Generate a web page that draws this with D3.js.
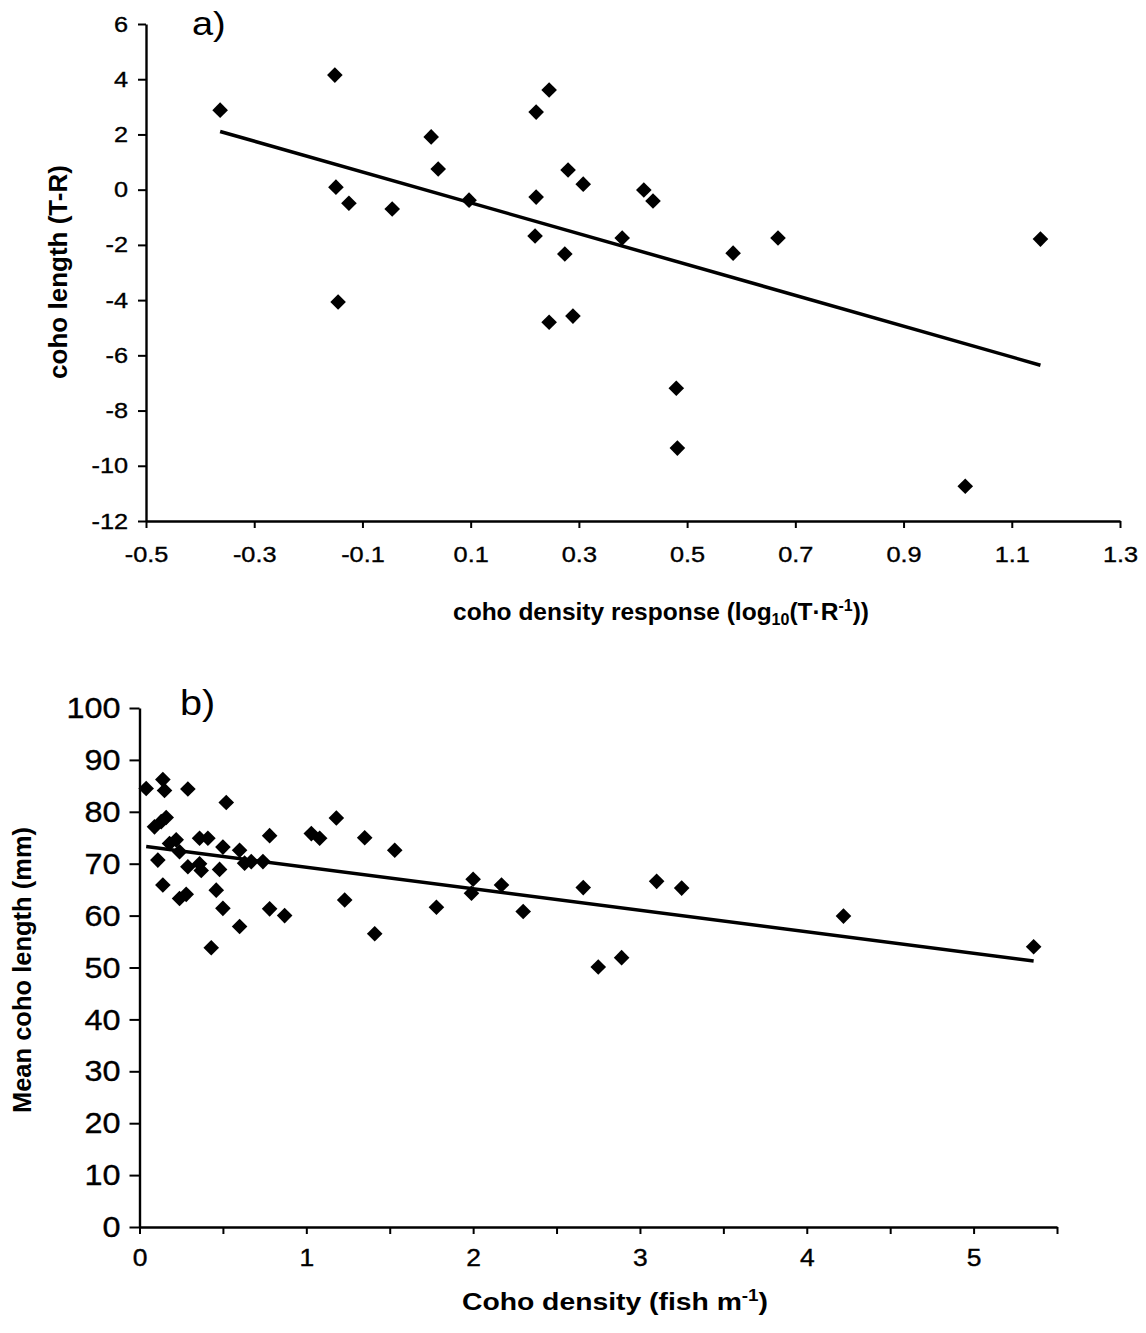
<!DOCTYPE html>
<html><head><meta charset="utf-8">
<script src="https://cdn.jsdelivr.net/npm/d3@7"></script>
<style>body{margin:0;background:#fff}svg{display:block}</style>
</head><body>
<svg id="c" width="1146" height="1333"></svg>
<script>
// Panel a: coho density response vs coho length (T-R)
const aX = [-0.363,-0.151,-0.149,-0.125,-0.145,-0.045,0.027,0.040,0.097,0.221,0.245,0.221,0.219,0.280,0.308,0.274,0.245,0.289,0.380,0.420,0.437,0.480,0.482,0.585,0.668,1.014,1.153];
const aY = [2.88,4.15,0.09,-0.49,-4.07,-0.70,1.91,0.75,-0.38,2.81,3.61,-0.27,-1.68,0.71,0.20,-2.33,-4.80,-4.58,-1.75,-0.01,-0.41,-7.19,-9.36,-2.30,-1.75,-10.74,-1.79];
const aXTicks = [-0.5,-0.3,-0.1,0.1,0.3,0.5,0.7,0.9,1.1,1.3];
const aYTicks = [-12,-10,-8,-6,-4,-2,0,2,4,6];

// Panel b: coho density vs mean coho length
const bX = [0.04,0.14,0.15,0.29,0.52,0.09,0.13,0.16,0.18,0.22,0.24,0.36,0.41,0.50,0.60,0.78,0.11,0.29,0.36,0.37,0.48,0.63,0.67,0.74,0.14,0.24,0.28,0.46,0.50,0.60,0.78,0.87,0.43,1.03,1.08,1.18,1.23,1.35,1.41,1.53,1.78,2.00,1.99,2.17,2.30,2.66,2.75,2.89,3.10,3.25,4.22,5.36];
const bY = [84.5,86.2,84.1,84.4,81.8,77.1,78.1,78.9,73.9,74.6,72.3,74.9,74.9,73.2,72.6,75.4,70.7,69.4,70.0,68.7,68.9,70.1,70.4,70.4,65.9,63.3,64.1,64.9,61.4,57.9,61.3,60.0,53.8,75.8,74.9,78.8,63.0,75.0,56.5,72.6,61.6,67.0,64.3,65.9,60.8,65.4,50.1,51.9,66.6,65.3,59.9,54.0];
const bXTicks = [0,1,2,3,4,5];
const bXMinorTicks = [0.5,1.5,2.5,3.5,4.5,5.5];
const bYTicks = [0,10,20,30,40,50,60,70,80,90,100];

const FONT = "'Liberation Sans', Arial, sans-serif";
const svg = d3.select("#c");

function linreg(xs, ys){
  const mx = d3.mean(xs), my = d3.mean(ys);
  let sxy=0, sxx=0;
  xs.forEach((x,i)=>{ sxy += (x-mx)*(ys[i]-my); sxx += (x-mx)*(x-mx); });
  const m = sxy/sxx;
  return {m, b: my - m*mx};
}

const diamond = d3.symbol().type(d3.symbolSquare).size(122);

function styleAxis(g, fs, stretch, isY){
  g.select(".domain").attr("stroke","#000").attr("stroke-width",2.4);
  g.selectAll(".tick line").attr("stroke","#000").attr("stroke-width",2);
  g.selectAll(".tick text").attr("fill","#000").style("font-family",FONT).style("font-size",fs+"px")
    .attr("stroke","#000").attr("stroke-width",0.35)
    .each(function(){
      const t = d3.select(this);
      if (isY) t.attr("x", (+t.attr("x"))/stretch);
      t.attr("transform", `scale(${stretch},1)`);
    });
}

function panel(xs, ys, xDom, xRange, yDom, yRange, opts){
  const x = d3.scaleLinear().domain(xDom).range(xRange);
  const y = d3.scaleLinear().domain(yDom).range(yRange);
  const g = svg.append("g");

  const ya = g.append("g").attr("transform",`translate(${xRange[0]},0)`)
    .call(d3.axisLeft(y).tickValues(opts.yTicks).tickSize(opts.yTickSize).tickSizeOuter(0).tickPadding(opts.yPad).tickFormat(d=>String(d)));
  styleAxis(ya, opts.yFs, opts.yStretch, true);
  const xa = g.append("g").attr("transform",`translate(0,${yRange[0]})`)
    .call(d3.axisBottom(x).tickValues(opts.xTicks).tickSize(7).tickSizeOuter(0).tickPadding(opts.xPad).tickFormat(opts.xFmt));
  styleAxis(xa, opts.xFs, opts.xStretch, false);
  if (opts.xMinor){
    g.append("g").attr("transform",`translate(0,${yRange[0]})`)
      .call(d3.axisBottom(x).tickValues(opts.xMinor).tickSize(7).tickSizeOuter(0).tickFormat(""))
      .call(a=>{a.select(".domain").remove(); a.selectAll(".tick line").attr("stroke","#000").attr("stroke-width",2);});
  }

  g.append("g").selectAll("path").data(xs.map((v,i)=>[v,ys[i]])).join("path")
    .attr("d", diamond)
    .attr("transform", d=>`translate(${x(d[0])},${y(d[1])}) rotate(45)`)
    .attr("fill","#000");

  const r = linreg(xs, ys);
  const x0 = d3.min(xs), x1 = d3.max(xs);
  g.append("line")
    .attr("x1", x(x0)).attr("y1", y(r.m*x0 + r.b))
    .attr("x2", x(x1)).attr("y2", y(r.m*x1 + r.b))
    .attr("stroke","#000").attr("stroke-width",3.5);
  return {x,y};
}

// Panel a
panel(aX, aY, [-0.5,1.3], [146,1120], [-12,6], [521,24], {
  yTicks:aYTicks, xTicks:aXTicks, yTickSize:8, yPad:10, xPad:18, yFs:22, xFs:22,
  yStretch:1.15, xStretch:1.15, xFmt:d=>d.toFixed(1)
});
// Panel b
panel(bX, bY, [0,5.5], [139.5,1057], [0,100], [1227,708], {
  yTicks:bYTicks, xTicks:bXTicks, xMinor:bXMinorTicks, yTickSize:10, yPad:9, xPad:16, yFs:30, xFs:23,
  yStretch:1.08, xStretch:1.15, xFmt:d=>String(d)
});

// Panel labels
svg.append("text").attr("transform","translate(192,35) scale(1.15,1)").style("font-family",FONT).style("font-size","33px").text("a)");
svg.append("text").attr("transform","translate(180,715) scale(1.1,1)").style("font-family",FONT).style("font-size","36px").text("b)");

// panel a x title
const tA = svg.append("text").attr("x",661).attr("y",620).attr("text-anchor","middle")
  .style("font-family",FONT).style("font-size","24.5px").style("font-weight","bold");
tA.append("tspan").text("coho density response (log");
tA.append("tspan").attr("dy",5).style("font-size","16px").text("10");
tA.append("tspan").attr("dy",-5).text("(T·R");
tA.append("tspan").attr("dy",-9).style("font-size","16px").text("-1");
tA.append("tspan").attr("dy",9).text("))");

// panel a y title
svg.append("text").attr("transform","translate(67,272) rotate(-90)").attr("text-anchor","middle")
  .style("font-family",FONT).style("font-size","26px").style("font-weight","bold").text("coho length (T-R)");

// panel b x title
const tB = svg.append("text").attr("transform","translate(615,1310) scale(1.18,1)").attr("text-anchor","middle")
  .style("font-family",FONT).style("font-size","24px").style("font-weight","bold");
tB.append("tspan").text("Coho density (fish m");
tB.append("tspan").attr("dy",-9).style("font-size","16px").text("-1");
tB.append("tspan").attr("dy",9).text(")");

// panel b y title
svg.append("text").attr("transform","translate(31,970) rotate(-90)").attr("text-anchor","middle")
  .style("font-family",FONT).style("font-size","25.5px").style("font-weight","bold").text("Mean coho length (mm)");
</script>
</body></html>
